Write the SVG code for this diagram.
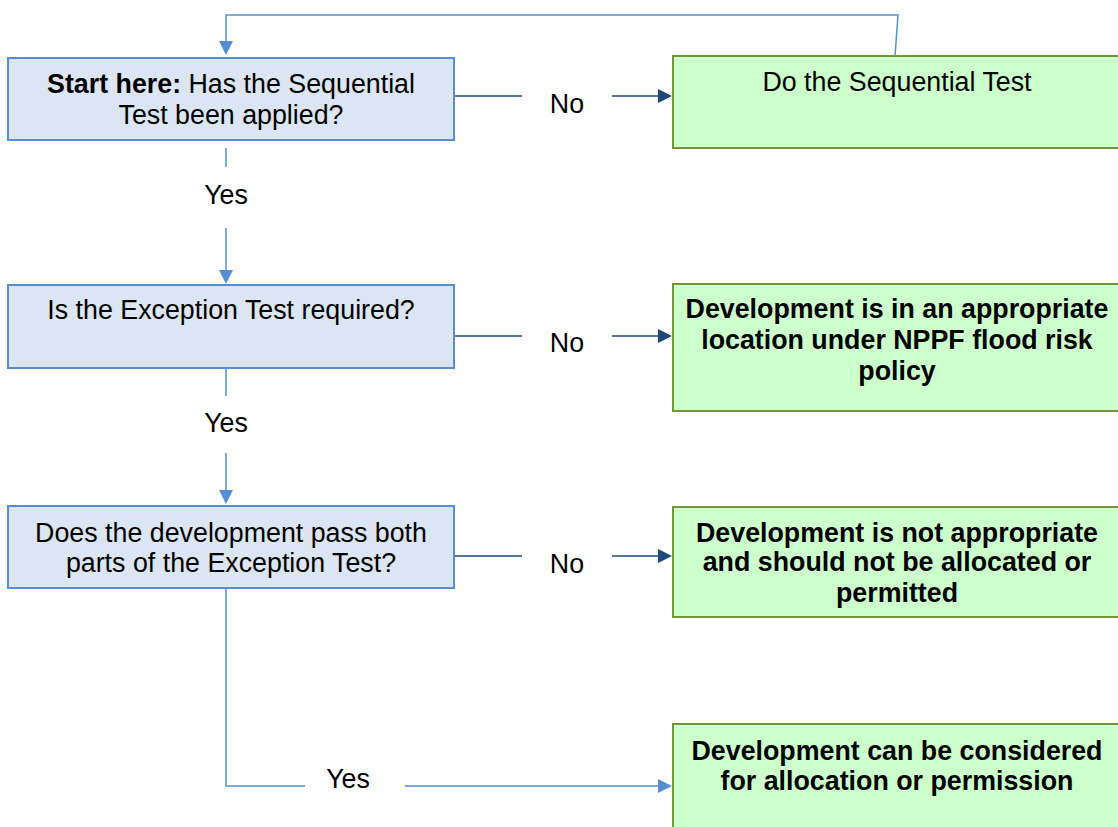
<svg xmlns="http://www.w3.org/2000/svg" width="1118" height="827" viewBox="0 0 1118 827">
<defs>
<style>
.q{fill:#dce6f2;stroke:#558ed5;stroke-width:2}
.r{fill:#ccffcc;stroke:#77933c;stroke-width:2}
.t{font-family:"Liberation Sans",Arial,sans-serif;font-size:26.8px;fill:#000;text-anchor:middle}
.b{font-weight:bold}
.lb{fill:none;stroke:#558ed5;stroke-width:1.5}
.db{fill:none;stroke:#1f497d;stroke-width:1.5}
.ah{fill:#558ed5}
.ahd{fill:#1f497d}
</style>
</defs>
<rect width="1118" height="827" fill="#fff"/>
<g id="connectors">
<path class="lb" d="M895,56 L898,15 L226,15 L226,41"/>
<path class="ah" d="M219,41 L233,41 L226,55 z"/>
<path class="lb" d="M226,148 L226,167"/>
<path class="lb" d="M226,228 L226,270"/>
<path class="ah" d="M219,270 L233,270 L226,284 z"/>
<path class="lb" d="M226,369 L226,396"/>
<path class="lb" d="M226,453 L226,490"/>
<path class="ah" d="M219,490 L233,490 L226,504 z"/>
<path class="lb" d="M226,589 L226,786 L305,786"/>
<path class="lb" d="M405,786 L658,786"/>
<path class="ah" d="M658,779 L658,793 L672,786 z"/>
<path class="db" d="M455,96 L522,96"/>
<path class="db" d="M612,96 L658,96"/>
<path class="ahd" d="M658,89 L658,103 L672,96 z"/>
<path class="db" d="M455,336 L522,336"/>
<path class="db" d="M612,336 L658,336"/>
<path class="ahd" d="M658,329 L658,343 L672,336 z"/>
<path class="db" d="M455,556 L522,556"/>
<path class="db" d="M612,556 L658,556"/>
<path class="ahd" d="M658,549 L658,563 L672,556 z"/>
<text class="t" x="567" y="113">No</text>
<text class="t" x="567" y="352">No</text>
<text class="t" x="567" y="573">No</text>
<text class="t" x="226" y="204">Yes</text>
<text class="t" x="226" y="432">Yes</text>
<text class="t" x="348" y="788">Yes</text>
</g>
<g id="n1">
<rect class="q" x="8" y="58" width="446" height="82"/>
<text class="t" x="231" y="93"><tspan class="b">Start here:</tspan> Has the Sequential</text>
<text class="t" x="231" y="124">Test been applied?</text>
</g>
<g id="n2">
<rect class="q" x="8" y="285" width="446" height="83"/>
<text class="t" x="231" y="319">Is the Exception Test required?</text>
</g>
<g id="n3">
<rect class="q" x="8" y="506" width="446" height="82"/>
<text class="t" x="231" y="542">Does the development pass both</text>
<text class="t" x="231" y="572">parts of the Exception Test?</text>
</g>
<g id="g1">
<rect class="r" x="673" y="56" width="450" height="92"/>
<text class="t" x="897" y="91">Do the Sequential Test</text>
</g>
<g id="g2">
<rect class="r" x="673" y="284" width="450" height="127"/>
<text class="t b" x="897" y="318">Development is in an appropriate</text>
<text class="t b" x="897" y="349">location under NPPF flood risk</text>
<text class="t b" x="897" y="380">policy</text>
</g>
<g id="g3">
<rect class="r" x="673" y="507" width="450" height="110"/>
<text class="t b" x="897" y="542">Development is not appropriate</text>
<text class="t b" x="897" y="571">and should not be allocated or</text>
<text class="t b" x="897" y="602">permitted</text>
</g>
<g id="g4">
<rect class="r" x="673" y="724" width="450" height="110"/>
<text class="t b" x="897" y="760">Development can be considered</text>
<text class="t b" x="897" y="790">for allocation or permission</text>
</g>
</svg>
